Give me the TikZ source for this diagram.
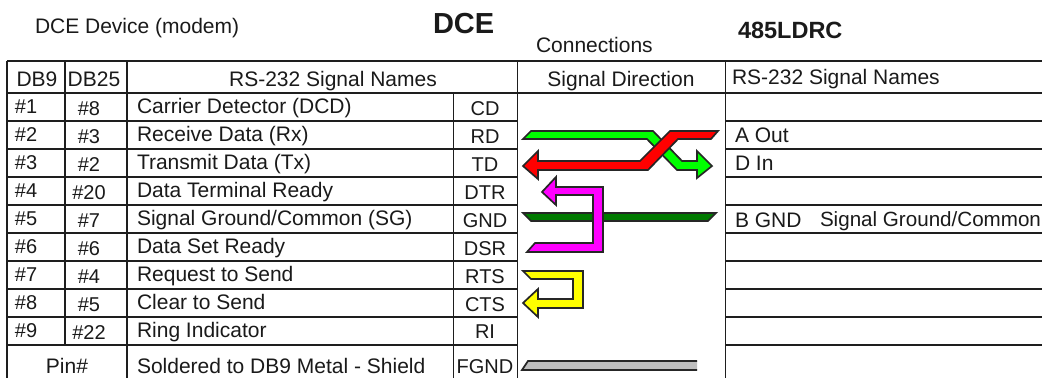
\documentclass[tikz,border=0pt]{standalone}
\usepackage{fontspec}
\setmainfont{Liberation Sans}
\definecolor{gridc}{HTML}{1E1E1E}
\definecolor{txtc}{HTML}{1A1A1A}
\definecolor{lgreen}{HTML}{00FF00}
\definecolor{lred}{HTML}{FF0000}
\definecolor{lmag}{HTML}{FF00FF}
\definecolor{dgreen}{HTML}{007A00}
\definecolor{lyel}{HTML}{FFFF00}
\definecolor{lgray}{HTML}{BEBEBE}
\tikzset{
  gridline/.style={draw=gridc,line width=1.5pt},
  wire/.style={draw=black!85,line width=1.7pt,line join=miter},
  lab/.style={inner sep=0pt,outer sep=0pt,text=txtc,font=\fontsize{21}{21}\selectfont},
  sm/.style={font=\fontsize{20}{20}\selectfont},
  ll/.style={lab,anchor=base west},
  cc/.style={lab,anchor=base},
}
\begin{document}
\begin{tikzpicture}[x=1pt,y=-1pt]
\useasboundingbox (0,0) rectangle (1042,378);
\fill[white] (0,0) rectangle (1042,378);
% table grid
\draw[gridline] (7,61) -- (1042,61);
\draw[gridline] (7,93) -- (1042,93);
\foreach \yy in {121,149,...,345} {
  \draw[gridline] (7,\yy) -- (517.5,\yy);
  \draw[gridline] (725.5,\yy) -- (1042,\yy);
}
\draw[gridline] (7,61) -- (7,378);
\draw[gridline] (65,61) -- (65,345);
\draw[gridline] (127,61) -- (127,378);
\draw[gridline] (453.5,93) -- (453.5,378);
\draw[gridline] (517.5,61) -- (517.5,378);
\draw[gridline] (725.5,61) -- (725.5,378);
% titles
\node[ll] (t1) at (35,33) {DCE Device (modem)};
\node[ll,font=\fontsize{29}{29}\selectfont\bfseries] (t2) at (433,33) {DCE};
\node[ll] (t3) at (536,52) {Connections};
\node[ll,font=\fontsize{23.5}{23.5}\selectfont\bfseries] (t4) at (738,38) {485LDRC};
% headers
\node[cc] (h1) at (37,86) {DB9};
\node[cc] (h2) at (94,86) {DB25};
\node[cc] (h3) at (333,86) {RS-232 Signal Names};
\node[cc] (h4) at (621,86) {Signal Direction};
\node[ll] (h5) at (732,84) {RS-232 Signal Names};
% DB9
\foreach \nm/\tx/\yy in {a1/\#1/113,a2/\#2/141,a3/\#3/169,a4/\#4/197,a5/\#5/225,a6/\#6/253,a7/\#7/281,a8/\#8/309,a9/\#9/337}
  \node[ll,sm] (\nm) at (15,\yy) {\tx};
% DB25
\foreach \nm/\tx/\yy in {b1/\#8/115,b2/\#3/143,b3/\#2/171,b4/\#20/199,b5/\#7/227,b6/\#6/255,b7/\#4/283,b8/\#5/311,b9/\#22/339}
  \node[cc,sm] (\nm) at (89,\yy) {\tx};
% names
\foreach \nm/\tx/\yy in {c1/Carrier Detector (DCD)/113,c2/Receive Data (Rx)/141,c3/Transmit Data (Tx)/169,c4/Data Terminal Ready/197,c6/Data Set Ready/253,c7/Request to Send/281,c8/Clear to Send/309,c9/Ring Indicator/337}
  \node[ll] (\nm) at (137,\yy) {\tx};
\node[ll] (c5) at (137,225) {Signal Ground/Common (SG)};
% abbreviations
\foreach \nm/\tx/\yy in {d1/CD/115,d2/RD/143,d3/TD/171,d4/DTR/199,d5/GND/227,d6/DSR/255,d7/RTS/283,d8/CTS/311,d9/RI/338}
  \node[cc,sm] (\nm) at (485,\yy) {\tx};
\node[cc] (p1) at (67,373) {Pin\#};
\node[ll] (p2) at (137,373) {Soldered to DB9 Metal - Shield};
\node[cc,sm] (p3) at (485,373) {FGND};
% right column
\node[ll] (r1) at (735,142) {A Out};
\node[ll] (r2) at (735,170) {D In};
\node[ll] (r3) at (735,227) {B GND};
\node[ll,font=\fontsize{20.6}{20.6}\selectfont] (r4) at (820,226) {Signal Ground/Common};
% connectors
\draw[wire,fill=lgreen] (523,139) -- (531,131) -- (653,131) -- (682,161) -- (697,161) -- (697,151) -- (712,166) -- (697,178) -- (697,170) -- (677,170) -- (647,139) -- cycle;
\draw[wire,fill=lred] (718,131) -- (670,131) -- (640,161) -- (538,161) -- (538,151) -- (523,166) -- (538,179) -- (538,170) -- (648,170) -- (678,139) -- (711,139) -- cycle;
\draw[wire,fill=dgreen] (523,213) -- (716,213) -- (708,221) -- (531,221) -- cycle;
\draw[wire,fill=lmag] (542,192) -- (556,177) -- (556,187) -- (603,187) -- (603,252) -- (527,252) -- (535,243) -- (593,243) -- (593,195) -- (556,195) -- (556,205) -- cycle;
\draw[wire,fill=lyel] (523,271) -- (583,271) -- (583,308) -- (538,308) -- (538,317) -- (523,303) -- (538,289) -- (538,299) -- (573,299) -- (573,279) -- (531,279) -- cycle;
\fill[lgray] (522,370) -- (528,361) -- (697,361) -- (697,370) -- cycle;
\draw[wire] (697,361) -- (528,361) -- (522,370) -- (697,370);
\end{tikzpicture}
\end{document}
